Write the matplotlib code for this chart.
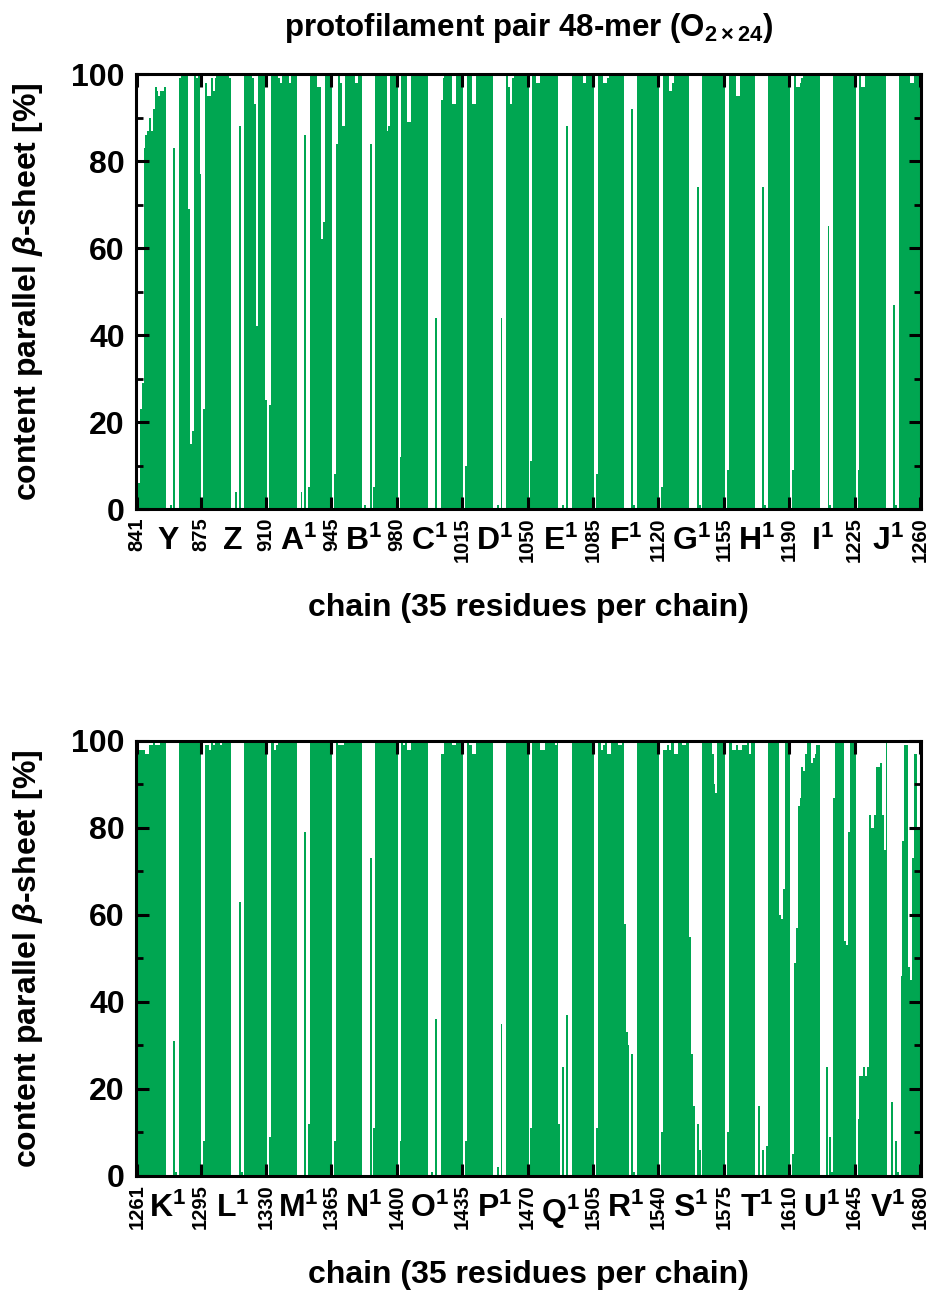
"""Per-residue parallel beta-sheet content of the protofilament pair 48-mer.

Two stacked bar panels, residues 841-1260 and 1261-1680, 35 residues per chain.
"""

import numpy as np
import matplotlib
matplotlib.use("Agg")
import matplotlib.pyplot as plt
from matplotlib.ticker import FixedLocator, FixedFormatter

plt.rcParams["font.family"] = ["Liberation Sans", "DejaVu Sans"]
plt.rcParams["font.weight"] = "bold"
plt.rcParams["mathtext.fontset"] = "custom"
plt.rcParams["mathtext.rm"] = "Liberation Sans:bold"
plt.rcParams["mathtext.bf"] = "Liberation Sans:bold"
plt.rcParams["mathtext.it"] = "Liberation Sans:italic:bold"

GREEN = "#00a651"
RES_PER_CHAIN = 35

# beta-sheet content [%] per residue, one list per chain (35 residues each)
beta_Y = [0, 6, 23, 29, 83, 86, 87, 90, 87, 92, 97, 96, 95, 96, 96, 97, 0, 0, 1, 0,
          83, 0, 0, 99, 100, 100, 100, 100, 69, 15, 18, 100, 99, 100, 77]
beta_Z = [0, 23, 98, 95, 95, 99, 96, 99, 100, 100, 100, 100, 100, 100, 100, 99, 0, 0, 4, 0,
          88, 0, 0, 100, 100, 100, 100, 99, 93, 42, 100, 100, 100, 100, 25]
beta_A1 = [0, 24, 100, 100, 100, 100, 99, 98, 100, 100, 100, 100, 98, 100, 100, 100, 0, 0, 4, 0,
           86, 0, 5, 100, 100, 100, 100, 97, 97, 62, 66, 100, 100, 100, 100]
beta_B1 = [0, 8, 84, 100, 98, 88, 88, 100, 100, 100, 100, 100, 98, 98, 100, 100, 0, 1, 0, 0,
           84, 0, 5, 100, 100, 100, 100, 100, 100, 87, 88, 100, 100, 100, 100]
beta_C1 = [0, 12, 100, 100, 100, 89, 89, 100, 100, 100, 100, 100, 100, 100, 100, 100, 0, 0, 0, 0,
           44, 0, 0, 94, 99, 100, 100, 100, 100, 93, 93, 100, 100, 100, 100]
beta_D1 = [0, 10, 100, 100, 100, 93, 93, 100, 100, 100, 100, 100, 100, 100, 100, 100, 0, 0, 1, 0,
           44, 0, 0, 100, 97, 93, 99, 100, 100, 100, 100, 100, 100, 100, 100]
beta_E1 = [0, 11, 100, 100, 98, 98, 100, 100, 100, 100, 100, 100, 100, 100, 100, 100, 0, 0, 1, 0,
           88, 0, 0, 100, 100, 100, 100, 100, 100, 98, 98, 100, 100, 100, 100]
beta_F1 = [0, 8, 100, 100, 100, 98, 98, 99, 100, 100, 100, 100, 100, 100, 100, 100, 0, 0, 0, 0,
           92, 1, 0, 100, 100, 100, 100, 100, 100, 100, 100, 100, 100, 100, 100]
beta_G1 = [0, 5, 100, 100, 100, 96, 96, 98, 100, 100, 100, 100, 100, 100, 100, 100, 0, 0, 0, 0,
           74, 1, 0, 100, 100, 100, 100, 100, 100, 100, 100, 100, 100, 100, 100]
beta_H1 = [0, 9, 100, 100, 100, 100, 95, 95, 100, 100, 100, 100, 100, 100, 100, 100, 0, 0, 0, 0,
           74, 1, 0, 100, 100, 100, 100, 100, 100, 100, 100, 100, 100, 100, 100]
beta_I1 = [0, 9, 100, 97, 97, 98, 99, 100, 100, 100, 100, 100, 100, 100, 100, 100, 0, 0, 0, 0,
           65, 1, 0, 100, 100, 100, 100, 100, 100, 100, 100, 100, 100, 100, 100]
beta_J1 = [0, 9, 100, 97, 97, 100, 100, 100, 100, 100, 100, 100, 100, 100, 100, 100, 0, 0, 0, 0,
           47, 1, 0, 100, 100, 100, 100, 100, 100, 98, 98, 100, 100, 100, 100]

beta_K1 = [9, 98, 98, 98, 98, 97, 97, 99, 99, 100, 99, 99, 99, 100, 100, 100, 0, 0, 0, 0,
           31, 1, 0, 100, 100, 100, 100, 100, 100, 100, 100, 100, 100, 100, 100]
beta_L1 = [0, 8, 99, 99, 98, 100, 99, 100, 100, 100, 99, 100, 100, 100, 100, 100, 0, 0, 0, 0,
           63, 1, 0, 100, 100, 100, 100, 100, 100, 100, 100, 100, 100, 100, 100]
beta_M1 = [0, 9, 100, 100, 98, 99, 100, 100, 100, 100, 100, 100, 100, 100, 100, 100, 0, 0, 0, 0,
           79, 0, 12, 100, 100, 100, 100, 100, 100, 100, 100, 100, 100, 100, 100]
beta_N1 = [0, 8, 100, 99, 99, 99, 100, 100, 100, 100, 100, 100, 100, 100, 100, 100, 0, 0, 0, 0,
           73, 0, 11, 100, 100, 100, 100, 100, 100, 100, 100, 100, 100, 100, 100]
beta_O1 = [0, 8, 100, 99, 100, 98, 98, 100, 100, 100, 100, 100, 100, 100, 100, 100, 0, 0, 1, 0,
           36, 0, 0, 97, 97, 100, 100, 100, 100, 99, 99, 100, 100, 100, 100]
beta_P1 = [0, 8, 100, 99, 99, 97, 97, 100, 100, 100, 100, 100, 100, 100, 100, 100, 0, 0, 2, 0,
           35, 0, 0, 100, 100, 100, 100, 100, 100, 100, 100, 100, 100, 100, 100]
beta_Q1 = [0, 11, 100, 100, 100, 100, 98, 98, 98, 100, 100, 100, 100, 100, 99, 100, 12, 0, 25, 0,
           37, 0, 0, 100, 100, 100, 100, 100, 100, 100, 100, 100, 100, 100, 100]
beta_R1 = [0, 11, 100, 100, 98, 99, 100, 97, 97, 100, 100, 100, 100, 99, 99, 100, 58, 33, 30, 0,
           28, 1, 0, 100, 100, 100, 100, 100, 100, 100, 100, 100, 100, 100, 100]
beta_S1 = [0, 10, 98, 98, 99, 98, 100, 100, 97, 97, 100, 100, 99, 99, 100, 100, 55, 28, 16, 0,
           12, 6, 0, 100, 100, 100, 100, 100, 97, 90, 88, 100, 100, 100, 100]
beta_T1 = [0, 10, 100, 100, 98, 98, 99, 98, 98, 99, 99, 99, 100, 97, 100, 100, 0, 0, 16, 0,
           6, 0, 7, 100, 100, 100, 100, 100, 100, 60, 59, 66, 100, 100, 100]
beta_U1 = [0, 5, 49, 57, 85, 87, 94, 93, 97, 100, 100, 95, 96, 97, 99, 99, 0, 0, 0, 25,
           0, 9, 1, 87, 100, 100, 100, 100, 100, 54, 53, 79, 100, 100, 100]
beta_V1 = [0, 13, 23, 23, 25, 23, 25, 83, 80, 80, 83, 94, 94, 95, 83, 75, 100, 0, 0, 17,
           0, 8, 1, 0, 46, 77, 99, 99, 48, 45, 73, 97, 97, 80, 80]

top_chains = ["Y", "Z", "A$^{1}$", "B$^{1}$", "C$^{1}$", "D$^{1}$",
              "E$^{1}$", "F$^{1}$", "G$^{1}$", "H$^{1}$", "I$^{1}$", "J$^{1}$"]
bottom_chains = ["K$^{1}$", "L$^{1}$", "M$^{1}$", "N$^{1}$", "O$^{1}$", "P$^{1}$",
                 "Q$^{1}$", "R$^{1}$", "S$^{1}$", "T$^{1}$", "U$^{1}$", "V$^{1}$"]

top_values = (beta_Y + beta_Z + beta_A1 + beta_B1 + beta_C1 + beta_D1
              + beta_E1 + beta_F1 + beta_G1 + beta_H1 + beta_I1 + beta_J1)
bottom_values = (beta_K1 + beta_L1 + beta_M1 + beta_N1 + beta_O1 + beta_P1
                 + beta_Q1 + beta_R1 + beta_S1 + beta_T1 + beta_U1 + beta_V1)


def draw_panel(ax, first, values, chains):
    res = np.arange(first, first + len(values))
    last = res[-1]
    ax.bar(res, values, width=1.0, color=GREEN, linewidth=0)
    ax.set_xlim(first - 0.5, last + 0.5)
    ax.set_ylim(0, 100)

    # chain boundaries carry the numbered ticks, chain names sit in between
    bounds = [first] + [first - 1 + RES_PER_CHAIN * k for k in range(1, len(chains) + 1)]
    ax.xaxis.set_major_locator(FixedLocator(bounds))
    ax.xaxis.set_major_formatter(FixedFormatter([str(b) for b in bounds]))
    centres = [first + RES_PER_CHAIN * k + 16.5 for k in range(len(chains))]
    ax.xaxis.set_minor_locator(FixedLocator(centres))
    ax.xaxis.set_minor_formatter(FixedFormatter(chains))

    ax.set_yticks(range(0, 101, 20))
    ax.set_yticks(range(10, 100, 20), minor=True)

    ax.tick_params(axis="both", which="major", direction="in", length=9, width=2.2,
                   top=True, right=True)
    ax.tick_params(axis="y", which="minor", direction="in", length=5, width=2,
                   left=True, right=True)
    ax.tick_params(axis="y", which="major", labelsize=23, pad=8)
    ax.tick_params(axis="x", which="major", labelsize=14.5, pad=6, labelrotation=90)
    ax.tick_params(axis="x", which="minor", length=0, labelsize=23, pad=12)
    for lab in ax.get_xticklabels():
        lab.set_fontweight("bold")
    for sp in ax.spines.values():
        sp.set_linewidth(2.2)

    ax.text(-0.137, 0.5, r"content parallel $\beta$-sheet [%]", transform=ax.transAxes,
            rotation=90, ha="center", va="center", fontsize=23, fontweight="bold")
    ax.text(0.5, -0.227, "chain (35 residues per chain)", transform=ax.transAxes,
            ha="center", va="center", fontsize=23, fontweight="bold")


fig = plt.figure(figsize=(9.35, 12.92), dpi=100)
ax_top = fig.add_axes([0.1455, 0.606, 0.8396, 0.3367])
ax_bot = fig.add_axes([0.1455, 0.0898, 0.8396, 0.3367])

draw_panel(ax_top, 841, top_values, top_chains)
draw_panel(ax_bot, 1261, bottom_values, bottom_chains)

ax_top.text(0.5, 1.106, r"protofilament pair 48-mer (O$_{2\times24}$)",
            transform=ax_top.transAxes, ha="center", va="center",
            fontsize=22.5, fontweight="bold")

fig.savefig("out.png", dpi=100)
